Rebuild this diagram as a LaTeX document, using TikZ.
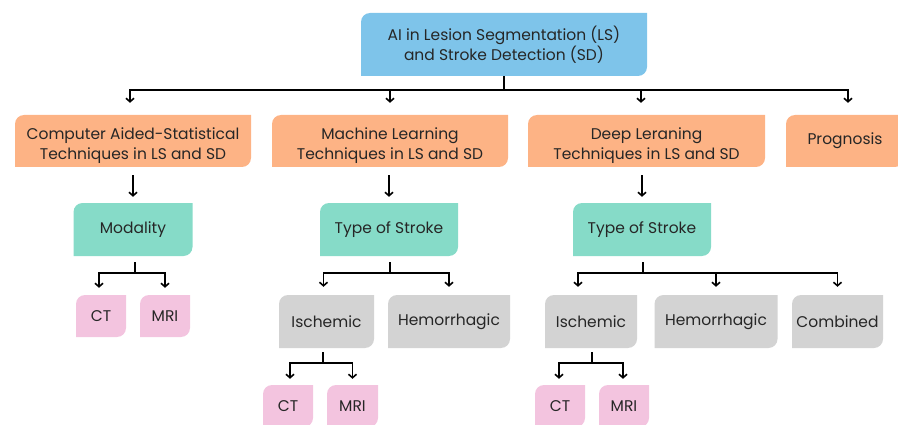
\documentclass[tikz,border=0pt]{standalone}
\usepackage{fontspec}
\setmainfont{Poppins}
\usetikzlibrary{arrows.meta}
\definecolor{cblue}{HTML}{7EC4EA}
\definecolor{corange}{HTML}{FDB385}
\definecolor{cteal}{HTML}{86DBC8}
\definecolor{cpink}{HTML}{F3C4DF}
\definecolor{cgray}{HTML}{D3D3D3}
\definecolor{txt}{HTML}{262626}
% extra head room for the first text line of the category boxes
\newcommand\catpad{\rule{0pt}{21pt}}
\begin{document}
\begin{tikzpicture}[x=1pt,y=1pt,
  box/.style={inner sep=0pt, align=center, text=txt,
    font=\fontsize{15.5}{20}\selectfont,
    path picture={\fill[#1]
      (path picture bounding box.south west)
      -- ([yshift=-9pt]path picture bounding box.north west)
      arc[start angle=180,end angle=90,radius=9pt]
      -- (path picture bounding box.north east)
      -- ([yshift=9pt]path picture bounding box.south east)
      arc[start angle=0,end angle=-90,radius=9pt]
      -- cycle;}},
  cat/.style={box=corange, minimum width=236pt, minimum height=52pt},
  sub/.style={box=cteal, minimum width=138pt, minimum height=53pt},
  kind/.style={box=cgray, minimum height=53pt},
  leaf/.style={box=cpink, minimum width=50pt, minimum height=42pt},
  link/.style={line width=1.5pt, black},
  arr/.style={link, -{Straight Barb[length=3.5pt,width=8pt,line width=1.6pt]}}]
\useasboundingbox (0,0) rectangle (898,424);
\clip (0,0) rectangle (898,424);

% root
\node[box=cblue, minimum width=286pt, minimum height=63pt] (top) at (504,379.5)
  {AI in Lesion Segmentation (LS)\\and Stroke Detection (SD)};

% technique categories
\node[cat] (c1) at (133,283) {\catpad Computer Aided-Statistical\\Techniques in LS and SD};
\node[cat] (c2) at (390,283) {\catpad Machine Learning\\Techniques in LS and SD};
\node[cat, minimum width=237pt] (c3) at (646.5,283) {\catpad Deep Leraning\\Techniques in LS and SD};
\node[cat, minimum width=118pt] (c4) at (845,283) {Prognosis};

% second level
\node[sub, minimum width=119pt] (m1) at (133,194.5) {Modality};
\node[sub] (t1) at (389,194.5) {Type of Stroke};
\node[sub] (t2) at (642,194.5) {Type of Stroke};

% modality leaves
\node[leaf] (ct1) at (101,108) {CT};
\node[leaf] (mr1) at (165,108) {MRI};

% stroke types
\node[kind, minimum width=95pt] (is1) at (326.5,102.5) {Ischemic};
\node[kind, minimum width=122pt] (he1) at (449,102.5) {Hemorrhagic};
\node[kind, minimum width=92pt] (is2) at (591,102.5) {Ischemic};
\node[kind, minimum width=123pt] (he2) at (716,102.5) {Hemorrhagic};
\node[kind, minimum width=91pt] (co2) at (837.5,102.5) {Combined};

% ischemic leaves
\node[leaf] (ct2) at (288,18) {CT};
\node[leaf, minimum width=51pt] (mr2) at (352.5,18) {MRI};
\node[leaf] (ct3) at (560,18) {CT};
\node[leaf] (mr3) at (624,18) {MRI};

% root bus
\coordinate (j0) at (504,334);
\draw[link] (top) -- (j0);
\draw[arr, shorten >=12pt] (j0) -| ([xshift=-3pt]c1.north);
\draw[arr, shorten >=12pt] (j0) -| (c2.north);
\draw[arr, shorten >=12pt] (j0) -| ([xshift=-5.5pt]c3.north);
\draw[arr, shorten >=12pt] (j0) -| ([xshift=3pt]c4.north);

% category to second level
\draw[arr, shorten <=8pt, shorten >=6pt] (m1.north |- c1.south) -- (m1.north);
\draw[arr, shorten <=8pt, shorten >=6pt] (t1.north |- c2.south) -- (t1.north);
\draw[arr, shorten <=8pt, shorten >=6pt] (t2.north |- c3.south) -- (t2.north);

% modality branch
\coordinate (jm) at (135,151);
\draw[link, shorten <=6pt] (m1.south -| jm) -- (jm);
\draw[arr, shorten >=7pt] (jm) -| ([xshift=-2pt]ct1.north);
\draw[arr, shorten >=7pt] (jm) -| (mr1.north);

% stroke type branches
\coordinate (jt1) at (390,151);
\draw[link, shorten <=6pt] (t1.south -| jt1) -- (jt1);
\draw[arr, shorten >=8pt] (jt1) -| ([xshift=-3pt]is1.north);
\draw[arr, shorten >=8pt] (jt1) -| (he1.north);

\coordinate (jt2) at (643,151);
\draw[link, shorten <=6pt] (t2.south -| jt2) -- (jt2);
\draw[arr, shorten >=8pt] (jt2) -| ([xshift=-13pt]is2.north);
\draw[arr, shorten >=8pt] (jt2) -| (he2.north);
\draw[arr, shorten >=8pt] (jt2) -| (co2.north);

% ischemic branches
\coordinate (ji1) at (323,61);
\draw[link, shorten <=4pt] (is1.south -| ji1) -- (ji1);
\draw[arr, shorten >=6pt] (ji1) -| ([xshift=2pt]ct2.north);
\draw[arr, shorten >=6pt] (ji1) -| (mr2.north);

\coordinate (ji2) at (592,61);
\draw[link, shorten <=4pt] (is2.south -| ji2) -- (ji2);
\draw[arr, shorten >=6pt] (ji2) -| ([xshift=-1pt]ct3.north);
\draw[arr, shorten >=6pt] (ji2) -| ([xshift=-1pt]mr3.north);
\end{tikzpicture}
\end{document}
